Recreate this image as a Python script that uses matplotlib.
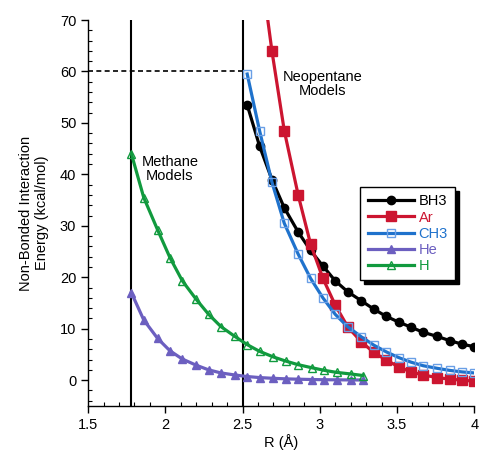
import matplotlib
matplotlib.use("Agg")
import matplotlib.pyplot as plt
from matplotlib.ticker import MultipleLocator

plt.rcParams['font.family'] = ['Liberation Sans', 'DejaVu Sans']

# Methane models (R in Angstrom)
r_methane = [1.78, 1.86, 1.95, 2.03, 2.11, 2.20, 2.28, 2.36, 2.45, 2.53,
             2.61, 2.70, 2.78, 2.86, 2.95, 3.03, 3.11, 3.20, 3.28]
e_h = [44.0, 35.5, 29.2, 23.8, 19.3, 15.7, 12.8, 10.4, 8.5, 6.9,
       5.6, 4.5, 3.7, 3.0, 2.4, 1.9, 1.5, 1.2, 0.9]
e_he = [17.0, 11.7, 8.1, 5.7, 4.1, 2.9, 2.0, 1.4, 1.0, 0.7,
        0.5, 0.35, 0.25, 0.18, 0.12, 0.08, 0.06, 0.04, 0.03]

# Neopentane models
r_neo = [2.53, 2.61, 2.69, 2.77, 2.86, 2.94, 3.02, 3.10, 3.18, 3.27,
         3.35, 3.43, 3.51, 3.59, 3.67, 3.76, 3.84, 3.92, 4.00]
e_bh3 = [53.5, 45.5, 39.0, 33.5, 28.8, 25.2, 22.2, 19.3, 17.2, 15.4,
         13.8, 12.4, 11.3, 10.3, 9.3, 8.5, 7.7, 7.0, 6.5]
e_ch3 = [59.5, 48.5, 38.5, 30.5, 24.5, 19.8, 16.0, 12.8, 10.4, 8.4,
         6.8, 5.5, 4.4, 3.5, 2.8, 2.3, 1.9, 1.6, 1.4]
r_ar = r_neo[1:]
e_ar = [82.0, 64.0, 48.5, 36.0, 26.5, 19.8, 14.6, 10.4, 7.4,
        5.4, 3.9, 2.6, 1.6, 1.0, 0.5, 0.2, 0.0, -0.2]

cut_methane = 1.78
cut_neo = 2.505
dash_level = 60

c_black = '#000000'
c_red = '#cc1530'
c_blue = '#1f72cc'
c_blue_m = '#6a9fe6'
c_purple = '#6c5fc0'
c_green = '#119a3e'

fig = plt.figure(figsize=(4.79, 4.55), dpi=100)
ax = fig.add_axes([0.184, 0.108, 0.806, 0.848])

ax.axvline(cut_methane, color='black', lw=1.5, zorder=1)
ax.axvline(cut_neo, color='black', lw=1.5, zorder=1)
ax.plot([1.5, cut_neo], [dash_level, dash_level], color='black', lw=1.2,
        ls=(0, (3, 2)), zorder=1)

lw = 2.3
ax.plot(r_neo, e_bh3, color=c_black, lw=lw, marker='o', ms=6, label='BH3', zorder=3)
ax.plot(r_ar, e_ar, color=c_red, lw=lw, marker='s', ms=6.5, label='Ar', zorder=3)
ax.plot(r_neo, e_ch3, color=c_blue, lw=lw, marker='s', ms=6, mfc='none',
        mec=c_blue_m, mew=1.0, label='CH3', zorder=4)
ax.plot(r_methane, e_he, color=c_purple, lw=lw, marker='^', ms=6, label='He', zorder=3)
ax.plot(r_methane, e_h, color=c_green, lw=lw, marker='^', ms=6, mfc='none',
        mew=1.0, label='H', zorder=3)

ax.set_xlim(1.5, 4.0)
ax.set_ylim(-5, 70)
ax.xaxis.set_minor_locator(MultipleLocator(0.1))
ax.yaxis.set_minor_locator(MultipleLocator(2))
ax.set_xticks([1.5, 2, 2.5, 3, 3.5, 4])
ax.set_xticklabels(['1.5', '2', '2.5', '3', '3.5', '4'])
ax.set_yticks([0, 10, 20, 30, 40, 50, 60, 70])
ax.tick_params(which='major', direction='out', length=5, width=1, labelsize=10.5)
ax.tick_params(which='minor', direction='in', length=3, width=0.8)
for s in ['top', 'right']:
    ax.spines[s].set_visible(False)
for s in ['left', 'bottom']:
    ax.spines[s].set_linewidth(1.0)

ax.set_xlabel('R (Å)', fontsize=10.5, labelpad=2)
ax.set_ylabel('Non-Bonded Interaction\nEnergy (kcal/mol)', fontsize=10.5, labelpad=8)

ax.text(2.03, 41.0, 'Methane\nModels', ha='center', va='center', fontsize=10.5,
        linespacing=1.0)
ax.text(3.02, 57.5, 'Neopentane\nModels', ha='center', va='center', fontsize=10.5,
        linespacing=1.0)

leg = ax.legend(loc='upper left', bbox_to_anchor=(0.705, 0.567), borderaxespad=0,
                frameon=True, fancybox=False, edgecolor='black', framealpha=1,
                shadow={'color': 'black', 'alpha': 1, 'ox': 2.5, 'oy': -2.5},
                handlelength=3.2, handletextpad=0.3, labelspacing=0.15,
                fontsize=10.5, borderpad=0.5)
leg.get_frame().set_linewidth(1.0)
for txt, col in zip(leg.get_texts(), [c_black, c_red, c_blue, c_purple, c_green]):
    txt.set_color(col)

fig.savefig('out.png', dpi=100)
